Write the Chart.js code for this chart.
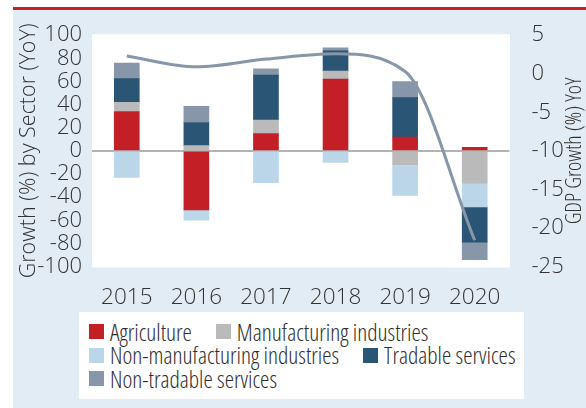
<!DOCTYPE html>
<html>
<head>
<title>Growth by Sector and GDP Growth</title>
<style>
  body { margin: 0; background: #fff; }
  #frame { position: relative; width: 586px; height: 408px; overflow: hidden; }
  #panel { position: absolute; left: 13px; top: 7px; right: 0; bottom: 0; background: #e1ecf5; border-top: 3px solid #c8202a; }
  #chart { position: absolute; left: 0; top: 0; }
  #legend {
    position: absolute; left: 79px; top: 312px; width: 445px; height: 87px;
    background: #fff; box-sizing: border-box; padding: 8px 0 0 10px;
    display: flex; flex-wrap: wrap; align-content: flex-start; column-gap: 24px;
    font-family: 'Open Sans', sans-serif; font-stretch: condensed; font-weight: 300;
    font-size: 23.5px; color: #2e2e2e;
  }
  .item { display: flex; align-items: center; height: 23.5px; white-space: nowrap; }
  .swatch { width: 15px; height: 15px; margin-right: 6px; }
</style>
</head>
<body>
<div id="frame">
  <div id="panel"></div>
  <canvas id="chart" width="586" height="408"></canvas>
  <div id="legend"></div>
</div>

<script src="https://cdn.jsdelivr.net/npm/chart.js"></script>
<script>
// data
const years = ['2015', '2016', '2017', '2018', '2019', '2020'];
const agriculture      = [34, -51, 15, 62, 12, 3];
const manufacturing    = [8, 4.5, 11.5, 7, -12, -28];
const nonManufacturing = [-23, -9, -27.5, -10, -26.5, -20.5];
const tradable         = [20.5, 20, 39, 17.5, 34, -30.5];
const nonTradable      = [13.5, 14, 5.5, 2.5, 14, -15];
const gdpGrowth        = [2.3, 0.9, 1.9, 2.6, 0.3, -21.6];

const sectorLabels = ['Agriculture', 'Manufacturing industries', 'Non-manufacturing industries',
                      'Tradable services', 'Non-tradable services'];
const sectorValues = [agriculture, manufacturing, nonManufacturing, tradable, nonTradable];
const sectorColors = ['#c21f26', '#bababa', '#bad6e8', '#2a5574', '#8796a9'];

const leftTicks = [100, 80, 60, 40, 20, 0, -20, -40, -60, -80, -100];
const rightTicks = [5, 0, -5, -10, -15, -20, -25];

// condensed light face, like the original
const fontFamily = "'Open Sans', sans-serif";
Chart.defaults.font.family = fontFamily;
Chart.defaults.font.style = 'condensed';
Chart.defaults.font.weight = '300';
Chart.defaults.color = '#333';

// white plot background + right axis title (reads bottom to top)
const plotDecor = {
    id: 'plotDecor',
    beforeDraw(chart) {
        const {ctx, chartArea} = chart;
        ctx.save();
        ctx.fillStyle = '#fff';
        ctx.fillRect(chartArea.left, chartArea.top - 1, chartArea.width + 0.5, chartArea.height + 2);
        ctx.restore();
    },
    afterDraw(chart) {
        const {ctx, chartArea} = chart;
        ctx.save();
        ctx.translate(575, (chartArea.top + chartArea.bottom) / 2);
        ctx.rotate(-Math.PI / 2);
        ctx.font = 'condensed 300 22px ' + fontFamily;
        ctx.fillStyle = '#333';
        ctx.textAlign = 'center';
        ctx.textBaseline = 'middle';
        ctx.fillText('GDP Growth (%) YoY', 0, 0);
        ctx.restore();
    }
};

const datasets = sectorLabels.map((label, i) => ({
    type: 'bar',
    label: label,
    data: sectorValues[i],
    backgroundColor: sectorColors[i],
    borderWidth: 0,
    barThickness: 25,
    stack: 'sectors',
    yAxisID: 'y',
    order: 1
}));

datasets.push({
    type: 'line',
    label: 'GDP growth',
    data: gdpGrowth,
    borderColor: '#8796a9',
    borderWidth: 3,
    pointRadius: 0,
    cubicInterpolationMode: 'monotone',
    yAxisID: 'y1',
    order: 0
});

new Chart(document.getElementById('chart'), {
    type: 'bar',
    data: { labels: years, datasets: datasets },
    options: {
        responsive: false,
        animation: false,
        devicePixelRatio: 1,
        layout: { padding: { top: 24 } },
        plugins: {
            legend: { display: false },
            tooltip: { enabled: false }
        },
        scales: {
            x: {
                stacked: true,
                grid: { display: false },
                border: { display: false },
                ticks: { font: { size: 22.5 }, padding: 10 },
                afterFit(scale) { scale.height = 141.5; }
            },
            y: {
                stacked: true,
                min: -100,
                max: 100,
                afterBuildTicks(scale) { scale.ticks = leftTicks.map(v => ({ value: v })); },
                grid: {
                    drawTicks: false,
                    lineWidth: 2,
                    color: ctx => (ctx.tick && ctx.tick.value === 0) ? '#b3b3b3' : 'transparent'
                },
                border: { display: false },
                ticks: { font: { size: 22 }, padding: 10, autoSkip: false },
                title: {
                    display: true,
                    text: 'Growth (%) by Sector (YoY)',
                    font: { size: 21.5 },
                    padding: { top: 16 }
                },
                z: 1,
                afterFit(scale) { scale.width = 92; }
            },
            y1: {
                position: 'right',
                min: -25,
                max: 5,
                afterBuildTicks(scale) { scale.ticks = rightTicks.map(v => ({ value: v })); },
                grid: { display: false, drawTicks: false },
                border: { display: false },
                ticks: { font: { size: 22 }, padding: 22, autoSkip: false },
                afterFit(scale) { scale.width = 76.5; }
            }
        }
    },
    plugins: [plotDecor]
});

// legend built from the same series
const legend = document.getElementById('legend');
sectorLabels.forEach((label, i) => {
    const item = document.createElement('div');
    item.className = 'item';
    const sw = document.createElement('span');
    sw.className = 'swatch';
    sw.style.background = sectorColors[i];
    item.appendChild(sw);
    item.appendChild(document.createTextNode(label));
    legend.appendChild(item);
});
</script>
</body>
</html>
